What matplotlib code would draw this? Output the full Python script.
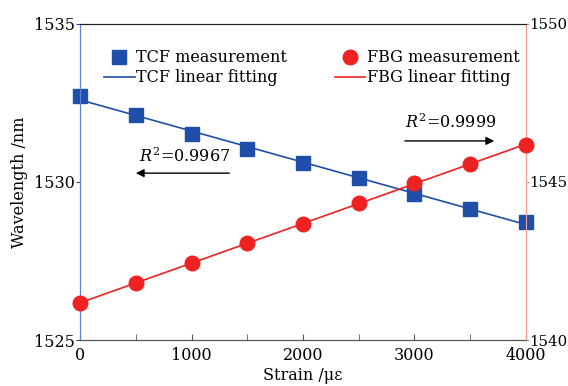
import matplotlib.pyplot as plt
import numpy as np

plt.rcParams['font.family'] = ['DejaVu Serif']
plt.rcParams['mathtext.fontset'] = 'dejavuserif'

strain = [0, 500, 1000, 1500, 2000, 2500, 3000, 3500, 4000]
tcf_wl = [1532.72, 1532.12, 1531.52, 1531.04, 1530.60, 1530.13, 1529.62, 1529.15, 1528.73]
fbg_wl = [1541.17, 1541.80, 1542.44, 1543.07, 1543.67, 1544.34, 1544.97, 1545.57, 1546.17]

blue = '#1f4fa8'
red = '#ee2222'
fs = 11.5

fig, ax = plt.subplots(figsize=(5.68, 3.86), dpi=100)
fig.subplots_adjust(left=0.141, right=0.926, top=0.938, bottom=0.119)
ax2 = ax.twinx()

# TCF on left axis
x = np.array(strain)
p1 = np.polyfit(x, tcf_wl, 1)
ax.plot(x, tcf_wl, 's', color=blue, markersize=9.5, label='TCF measurement', zorder=3, clip_on=False)
ax.plot(x, np.polyval(p1, x), '-', color=blue, lw=1.2, label='TCF linear fitting')

# FBG on right axis
p2 = np.polyfit(x, fbg_wl, 1)
ax2.plot(x, fbg_wl, 'o', color=red, markersize=10.5, label='FBG measurement', zorder=3, clip_on=False)
ax2.plot(x, np.polyval(p2, x), '-', color=red, lw=1.2, label='FBG linear fitting')

ax.set_xlim(0, 4000)
ax.set_ylim(1525, 1535)
ax2.set_ylim(1540, 1550)
ax.set_xticks([0, 1000, 2000, 3000, 4000])
ax.set_xticks([500, 1500, 2500, 3500], minor=True)
ax.set_yticks([1525, 1530, 1535])
ax2.set_yticks([1540, 1545, 1550])

ax.tick_params(axis='x', direction='in', length=4, labelsize=fs, pad=5, color='#555555')
ax.tick_params(axis='x', which='minor', direction='in', length=4, color='#555555')
ax.tick_params(axis='y', direction='out', length=3, labelsize=fs, pad=1, color=blue)
ax2.tick_params(axis='y', direction='out', length=2, labelsize=10.8, pad=0, color='#f08070')

for a in (ax, ax2):
    a.spines['left'].set_color('#5b84d6')
    a.spines['right'].set_color('#f4a090')
    a.spines['top'].set_color('#222222')
    a.spines['bottom'].set_color('#555555')

ax.set_xlabel('Strain /με', fontsize=fs, labelpad=2)
ax.set_ylabel('Wavelength /nm', fontsize=fs, labelpad=4)

leg1 = ax.legend(loc='upper left', bbox_to_anchor=(0.04, 0.94), frameon=False, fontsize=fs,
                 handlelength=1.9, handletextpad=0.1, labelspacing=0.2, borderaxespad=0)
leg2 = ax2.legend(loc='upper right', bbox_to_anchor=(1.0, 0.94), frameon=False, fontsize=fs,
                  handlelength=1.9, handletextpad=0.1, labelspacing=0.2, borderaxespad=0)

ax.annotate('', xy=(475, 1530.28), xytext=(1363, 1530.28),
            arrowprops=dict(arrowstyle='-|>', color='black', lw=1, mutation_scale=12))
ax.text(942, 1530.79, '$R^2$=0.9967', fontsize=fs, ha='center', va='center')
ax2.annotate('', xy=(3740, 1546.3), xytext=(2888, 1546.3),
             arrowprops=dict(arrowstyle='-|>', color='black', lw=1, mutation_scale=12))
ax2.text(3327, 1546.87, '$R^2$=0.9999', fontsize=fs, ha='center', va='center')

plt.savefig('out.png', dpi=100)
